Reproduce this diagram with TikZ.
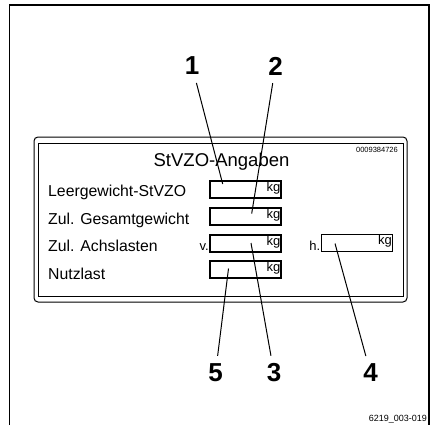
\documentclass[tikz,border=0pt]{standalone}
\usepackage{fontspec}
\setmainfont{Liberation Sans}
\usetikzlibrary{calc}

\begin{document}
\begin{tikzpicture}[
    x=1pt, y=-1pt,
    line join=miter,
    frame/.style={draw, line width=1.6pt},
    plate/.style={draw, line width=1pt},
    field/.style={draw, line width=1.1pt, minimum width=71pt, minimum height=17pt, inner sep=0pt},
    kg/.style={font=\fontsize{13}{13}\selectfont, inner sep=1pt},
    lbl/.style={font=\fontsize{15.8}{15.8}\selectfont, anchor=base west, inner sep=0pt},
    side/.style={font=\fontsize{13}{13}\selectfont, anchor=base east, inner sep=0.5pt},
    num/.style={font=\bfseries\fontsize{26}{26}\selectfont, inner sep=1pt, outer sep=7pt},
    lead/.style={line width=1pt}
]
\useasboundingbox (0,0) rectangle (438,425);

% =========================================================
% 1) OUTER FRAME (open at the bottom)
% =========================================================
\draw[frame] (9.5,425) -- (9.5,5) -- (429,5) -- (429,425);
\node[anchor=base east, font=\fontsize{9}{9}\selectfont, inner sep=0pt] (figno) at (427,421) {6219\_003-019};

% =========================================================
% 2) STVZO PLATE
% =========================================================
\draw[plate, rounded corners=4pt] (34,137) rectangle (407,302);
\draw[plate] (38,143.5) rectangle (403,296.5);
\node[anchor=base, font=\fontsize{18.5}{18.5}\selectfont, inner sep=0pt] (title) at (221.5,166.5) {StVZO-Angaben};
\node[anchor=north east, font=\fontsize{7.5}{7.5}\selectfont, inner sep=0pt] (serial) at (398,147.5) {0009384726};

% row labels
\node[lbl] (tleer) at (48,196.5) {Leergewicht-StVZO};
\node[lbl] (tgesamt) at (48,224) {Zul. Gesamtgewicht};
\node[lbl] (tachs) at (48,251.5) {Zul. Achslasten};
\node[lbl] (tnutz) at (48,279) {Nutzlast};

% entry fields
\node[field] (leer) at (245.5,189.5) {};
\node[field] (gesamt) at (245.5,216.5) {};
\node[field] (vorn) at (245.5,243.5) {};
\node[field] (nutz) at (245.5,269.5) {};
\node[field] (hinten) at (357,243) {};
\foreach \b in {leer,gesamt,vorn,nutz,hinten}
  \node[kg, anchor=north east] (kg-\b) at (\b.north east) {kg};

\node[side] (tv) at (vorn.south west |- 0,250.5) {v.};
\node[side] (th) at (hinten.south west |- 0,250.5) {h.};

% =========================================================
% 3) CALLOUTS
% =========================================================
\node[num] (n1) at (192,66) {1};
\node[num] (n2) at (275.5,66) {2};
\node[num] (n5) at (215.5,373) {5};
\node[num] (n3) at (274,373) {3};
\node[num] (n4) at (370.5,373) {4};

\coordinate (e1) at (222.7,184);
\coordinate (e2) at (251.7,213.5);
\coordinate (e3) at (251,243);
\coordinate (e4) at (335,243.5);
\coordinate (e5) at (228.5,268.5);

\draw[lead] (n1) -- (e1);
\draw[lead] (n2) -- (e2);
\draw[lead] (n3) -- (e3);
\draw[lead] (n4) -- (e4);
\draw[lead] (n5) -- (e5);

\end{tikzpicture}
\end{document}
